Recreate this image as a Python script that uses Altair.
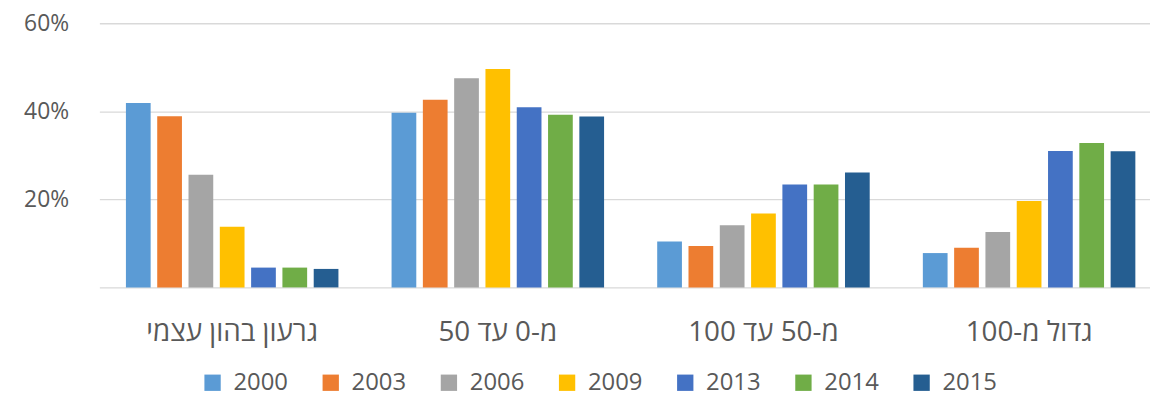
import altair as alt
import pandas as pd

categories = ["גרעון בהון עצמי", "מ-0 עד 50", "מ-50 עד 100", "גדול מ-100"]
years = ["2000", "2003", "2006", "2009", "2013", "2014", "2015"]
colors = ["#5B9BD5", "#ED7D31", "#A5A5A5", "#FFC000", "#4472C4", "#70AD47", "#255E91"]

v2000 = [0.419, 0.397, 0.104, 0.078]
v2003 = [0.389, 0.426, 0.094, 0.090]
v2006 = [0.256, 0.475, 0.141, 0.126]
v2009 = [0.138, 0.496, 0.168, 0.196]
v2013 = [0.045, 0.409, 0.234, 0.310]
v2014 = [0.045, 0.392, 0.234, 0.328]
v2015 = [0.042, 0.388, 0.261, 0.309]

series = [v2000, v2003, v2006, v2009, v2013, v2014, v2015]
rows = []
for y, vals in zip(years, series):
    for c, v in zip(categories, vals):
        rows.append({"category": c, "year": y, "value": v})
df = pd.DataFrame(rows)

FONT = "Open Sans"
GRAY = "#595959"

chart = alt.Chart(df).mark_bar().encode(
    x=alt.X("category:N", sort=categories, title=None,
            scale=alt.Scale(range=[0, 1070], paddingInner=0.2, paddingOuter=0.1),
            axis=alt.Axis(domain=False, ticks=False, labelAngle=0,
                          labelFontSize=28, labelColor=GRAY, labelFont=FONT,
                          labelBaseline="middle", labelPadding=45)),
    xOffset=alt.XOffset("year:N", sort=years,
                        scale=alt.Scale(paddingInner=0.21, paddingOuter=0)),
    y=alt.Y("value:Q", title=None,
            scale=alt.Scale(domain=[0, 0.6], nice=False),
            axis=alt.Axis(values=[0, 0.2, 0.4, 0.6], format=".0%",
                          labelExpr="datum.value == 0 ? '' : datum.label",
                          domain=False, ticks=False, grid=True,
                          gridColor="#D9D9D9", gridWidth=1.3,
                          labelFontSize=23, labelColor=GRAY, labelFont=FONT,
                          labelPadding=31)),
    color=alt.Color("year:N", sort=years,
                    scale=alt.Scale(domain=years, range=colors),
                    legend=alt.Legend(title=None, orient="none", direction="horizontal",
                                      legendX=102, legendY=350, padding=0,
                                      symbolType="square", symbolSize=270,
                                      symbolStrokeWidth=0, symbolOpacity=1,
                                      labelFontSize=24, labelColor=GRAY, labelFont=FONT,
                                      labelOffset=9, columnPadding=31)),
).properties(
    width=1058, height=266,
    autosize=alt.AutoSizeParams(type="none"),
    padding={"left": 92, "top": 14, "right": 0, "bottom": 110},
).configure_view(stroke=None)

chart.save("out.html", embed_options={"renderer": "svg", "actions": False})
